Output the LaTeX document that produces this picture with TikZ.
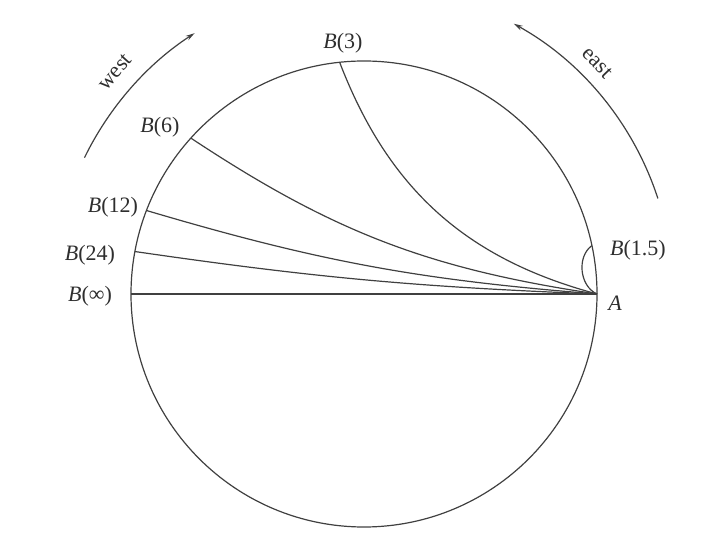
\documentclass[tikz,border=0pt]{standalone}
\usepackage{fontspec}
\setmainfont{Liberation Serif}
\usetikzlibrary{arrows.meta,calc}
\begin{document}
\begin{tikzpicture}[x=1pt,y=1pt,
  ink/.style={draw=black!75, line width=1.2pt},
  lab/.style={text=black!82, font=\fontsize{22}{24}\selectfont, inner sep=0pt},
  arr/.style={ink, -{Stealth[length=9pt,width=5pt]}}]
\useasboundingbox (0,0) rectangle (728,538);
\coordinate (O) at (364,244);
\def\R{233}
\draw[ink] (O) circle[radius=\R];
\coordinate (A)    at ($(O)+(0:\R)$);
\coordinate (B15)  at ($(O)+(12:\R)$);
\coordinate (B3)   at ($(O)+(96:\R)$);
\coordinate (B6)   at ($(O)+(138:\R)$);
\coordinate (B12)  at ($(O)+(159:\R)$);
\coordinate (B24)  at ($(O)+(169.5:\R)$);
\coordinate (Binf) at ($(O)+(180:\R)$);
% curves from A
\draw[ink] (A) -- (Binf);
\draw[ink] (A) to[bend left=3] (B24);
\draw[ink] (A) to[bend left=6] (B12);
\draw[ink] (A) to[bend left=12.5] (B6);
\draw[ink] (A) to[bend left=27] (B3);
\draw[ink] (A) to[bend left=60] (B15);
% direction arcs
\coordinate (W0) at ($(O)+(154:311)$);
\coordinate (E0) at ($(O)+(18:309)$);
\draw[arr] (W0) arc[start angle=154, end angle=123, radius=311];
\draw[arr] (E0) arc[start angle=18, end angle=61, radius=309];
% labels
\node[lab] (lB3)   at (343,495) {\textit{B}(3)};
\node[lab] (lB6)   at (160,411) {\textit{B}(6)};
\node[lab] (lB12)  at (113,331) {\textit{B}(12)};
\node[lab] (lB24)  at (90,283)  {\textit{B}(24)};
\node[lab] (lBinf) at (90,242)  {\textit{B}(∞)};
\node[lab] (lB15)  at (638,288) {\textit{B}(1.5)};
\node[lab] (lA)    at (615,235) {\textit{A}};
\node[lab, rotate=48]  (lW) at (115,466) {west};
\node[lab, rotate=-46] (lE) at (597,475) {east};
\end{tikzpicture}
\end{document}
